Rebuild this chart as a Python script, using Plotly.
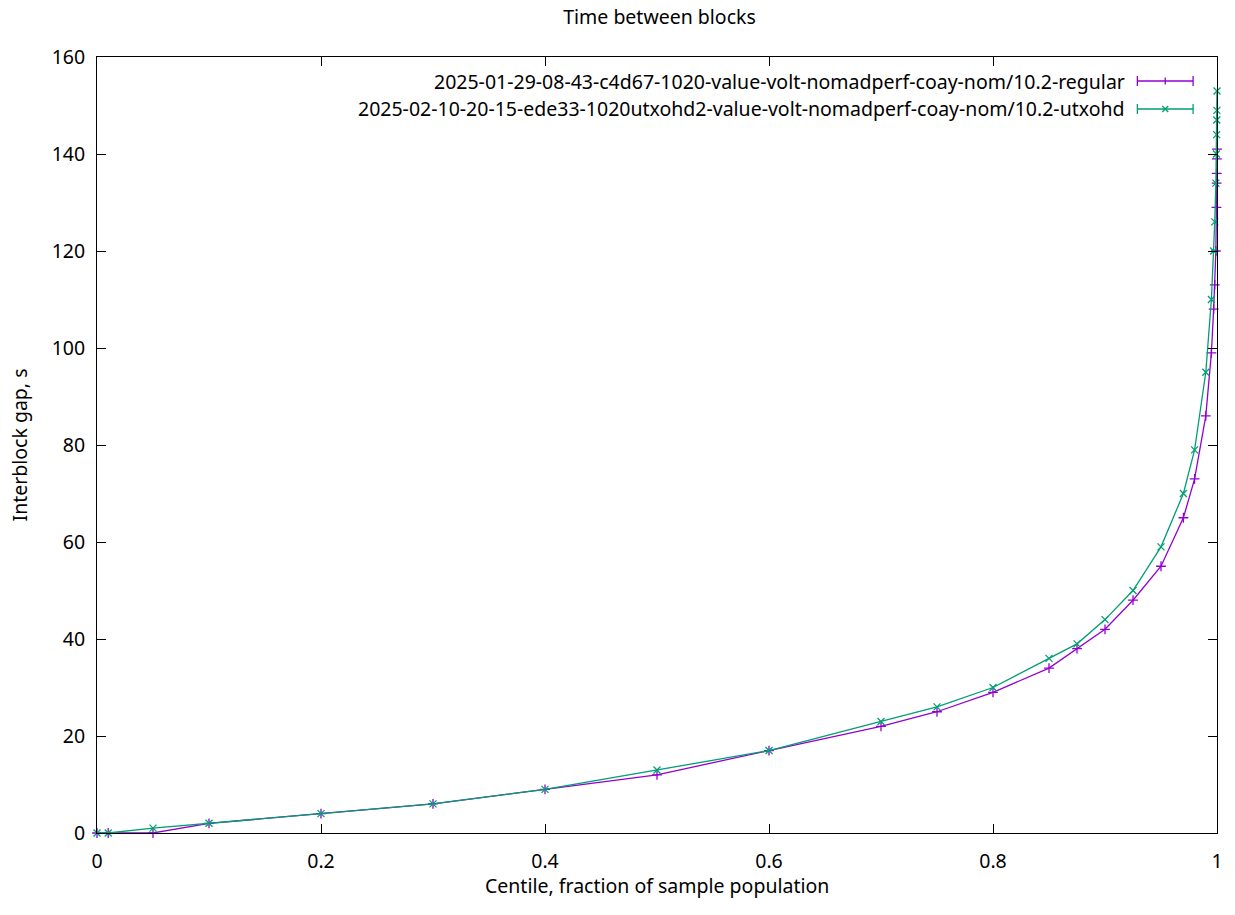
import plotly.graph_objects as go

centiles = [0, 0.01, 0.05, 0.1, 0.2, 0.3, 0.4, 0.5, 0.6, 0.7, 0.75, 0.8, 0.85, 0.875,
            0.9, 0.925, 0.95, 0.97, 0.98, 0.99, 0.995, 0.997, 0.998, 0.999, 0.9995,
            0.9997, 0.9998, 0.9999, 1.0]
regular = [0, 0, 0, 2, 4, 6, 9, 12, 17, 22, 25, 29, 34, 38,
           42, 48, 55, 65, 73, 86, 99, 108, 113, 120, 129,
           134, 136, 139, 141]
utxohd = [0, 0, 1, 2, 4, 6, 9, 13, 17, 23, 26, 30, 36, 39,
          44, 50, 59, 70, 79, 95, 110, 120, 126, 134, 140,
          144, 147, 149, 153]

names = ["2025-01-29-08-43-c4d67-1020-value-volt-nomadperf-coay-nom/10.2-regular",
         "2025-02-10-20-15-ede33-1020utxohd2-value-volt-nomadperf-coay-nom/10.2-utxohd"]
colors = ["#9400d3", "#009e73"]
symbols = ["cross-thin", "x-thin"]
series = [regular, utxohd]
x_title = "Centile, fraction of sample population"
y_title = "Interblock gap, s"
chart_title = "Time between blocks"

FONT = "Noto Sans"
FS = 19.5
W, H = 1235, 915
L, R, T, B = 97, 13, 57, 82

fig = go.Figure()
for name, ys, c, s in zip(names, series, colors, symbols):
    fig.add_trace(go.Scatter(
        x=centiles, y=ys, name=name, mode="lines+markers",
        line=dict(color=c, width=1.3),
        marker=dict(symbol=s, size=7, color=c, line=dict(color=c, width=1.3)),
        showlegend=False, cliponaxis=False))

pw, ph = W - L - R, H - T - B
def px(x):
    return (x - L) / pw
def py(y):
    return (H - B - y) / ph

shapes = []
annotations = []
leg_y = [81, 109]
for i, (name, c) in enumerate(zip(names, colors)):
    y = leg_y[i]
    annotations.append(dict(xref="paper", yref="paper", x=px(1132), y=py(y),
                            xanchor="right", yanchor="middle", showarrow=False,
                            text=name, font=dict(family=FONT, size=FS, color="#000000")))
    x0, x1, xm = 1142, 1198, 1170
    ln = dict(color=c, width=1.3)
    shapes.append(dict(type="line", xref="paper", yref="paper", x0=px(x0), x1=px(x1), y0=py(y), y1=py(y), line=ln))
    for xe in (x0, x1):
        shapes.append(dict(type="line", xref="paper", yref="paper", x0=px(xe), x1=px(xe), y0=py(y - 5), y1=py(y + 5), line=ln))
    if i == 0:
        shapes.append(dict(type="line", xref="paper", yref="paper", x0=px(xm), x1=px(xm), y0=py(y - 3.5), y1=py(y + 3.5), line=ln))
    else:
        shapes.append(dict(type="line", xref="paper", yref="paper", x0=px(xm - 3), x1=px(xm + 3), y0=py(y - 3), y1=py(y + 3), line=ln))
        shapes.append(dict(type="line", xref="paper", yref="paper", x0=px(xm - 3), x1=px(xm + 3), y0=py(y + 3), y1=py(y - 3), line=ln))

# x-axis title as annotation for exact vertical placement
annotations.append(dict(xref="paper", yref="paper", x=0.5, y=py(885),
                        xanchor="center", yanchor="middle", showarrow=False,
                        text=x_title, font=dict(family=FONT, size=FS, color="#000000")))

axis_common = dict(showline=True, linecolor="#000000", linewidth=1, mirror="allticks",
                   ticks="inside", ticklen=9, tickcolor="#000000", tickwidth=1,
                   showgrid=False, zeroline=False,
                   tickfont=dict(family=FONT, size=FS, color="#000000"))

fig.update_layout(
    width=W, height=H,
    margin=dict(l=L, r=R, t=T, b=B, pad=0),
    paper_bgcolor="white", plot_bgcolor="white",
    title=dict(text=chart_title, x=(L + pw / 2) / W, xanchor="center",
               y=1 - 17 / H, yanchor="middle", font=dict(family=FONT, size=FS, color="#000000")),
    xaxis=dict(range=[0, 1], tickvals=[0, 0.2, 0.4, 0.6, 0.8, 1.0],
               ticktext=["0", "0.2", "0.4", "0.6", "0.8", "1"],
               ticklabelstandoff=11, **axis_common),
    yaxis=dict(range=[0, 160], tickvals=list(range(0, 161, 20)),
               title=dict(text=y_title, standoff=18,
                          font=dict(family=FONT, size=FS, color="#000000")),
               ticklabelstandoff=7, **axis_common),
    shapes=shapes, annotations=annotations,
)

fig.write_html("out.html")
